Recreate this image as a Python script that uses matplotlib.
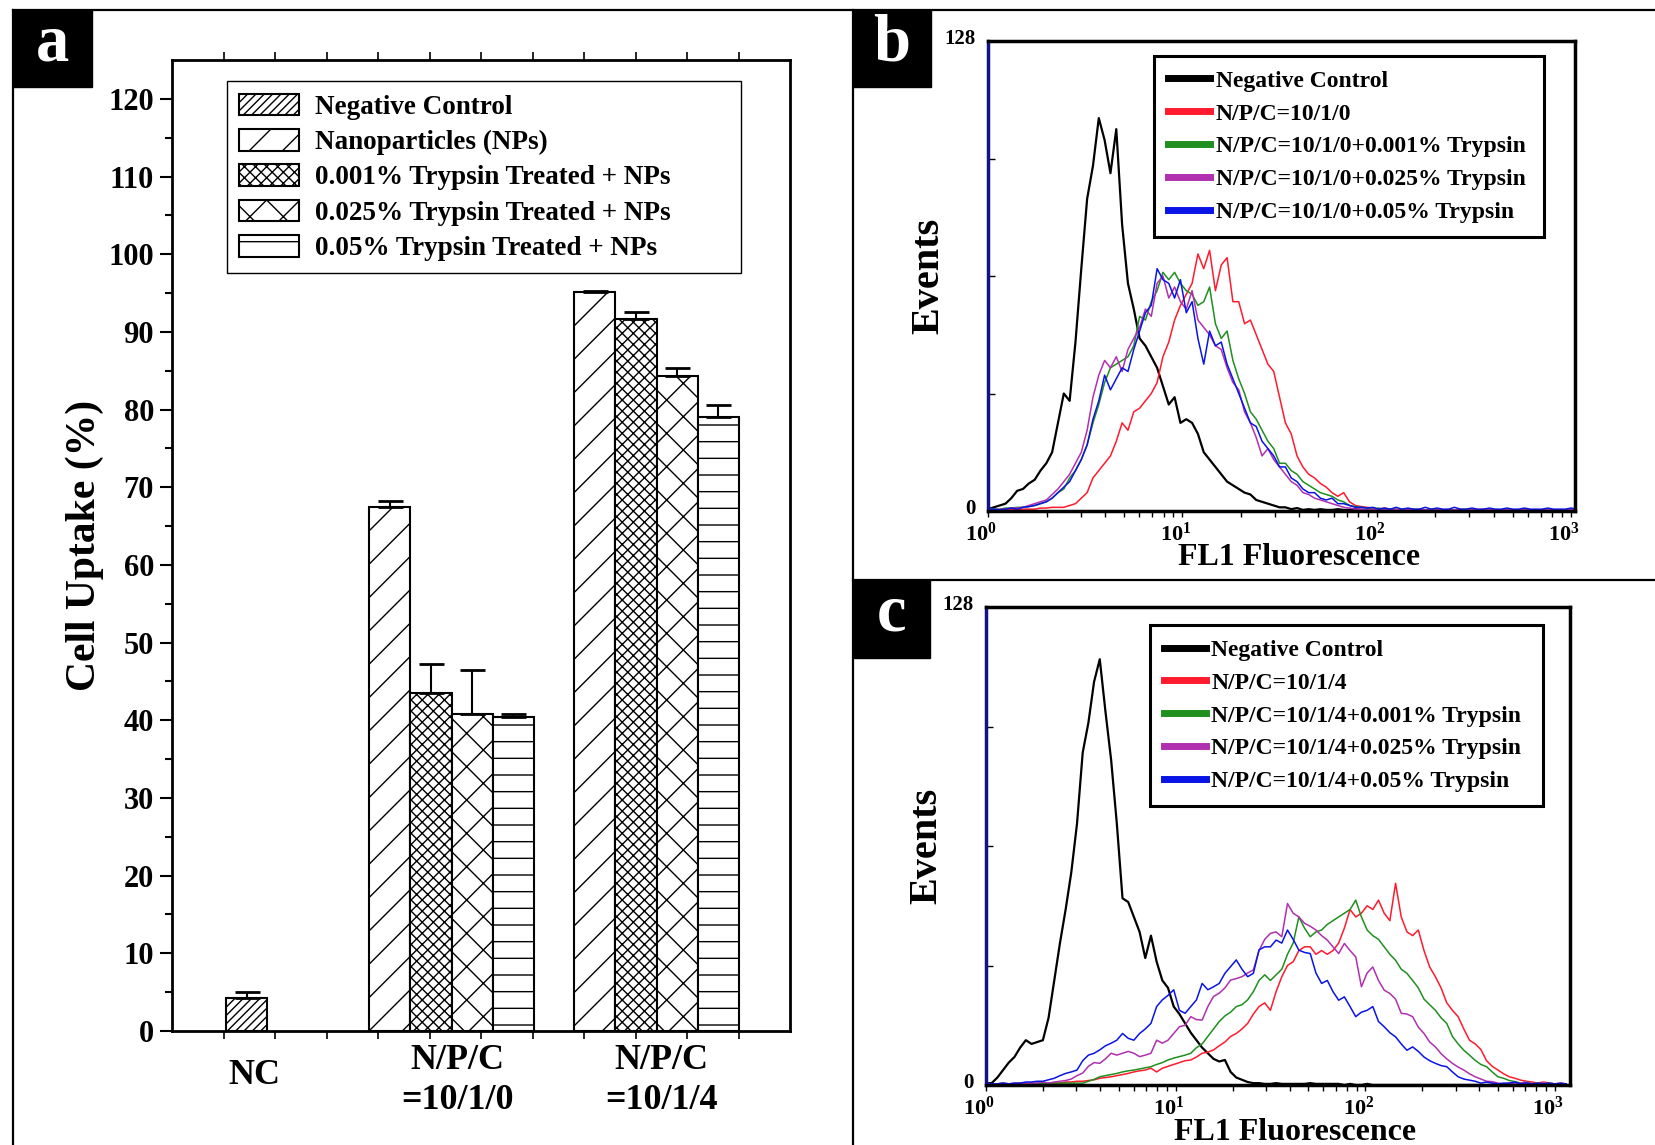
import matplotlib.pyplot as plt
import numpy as np
from matplotlib.patches import Rectangle
from matplotlib.lines import Line2D
from matplotlib.transforms import ScaledTranslation

plt.rcParams['font.family'] = ['Liberation Serif', 'DejaVu Serif']
plt.rcParams['font.weight'] = 'bold'
plt.rcParams['axes.labelweight'] = 'bold'
plt.rcParams['hatch.linewidth'] = 1.0
plt.rcParams['mathtext.fontset'] = 'custom'
plt.rcParams['mathtext.rm'] = 'Liberation Serif:bold'
plt.rcParams['mathtext.it'] = 'Liberation Serif:bold'
plt.rcParams['mathtext.bf'] = 'Liberation Serif:bold'

# ---------------- panel a : uptake bars ----------------
groups = ['NC', 'N/P/C\n=10/1/0', 'N/P/C\n=10/1/4']
series_names = ['Negative Control', 'Nanoparticles (NPs)',
                '0.001% Trypsin Treated + NPs', '0.025% Trypsin Treated + NPs',
                '0.05% Trypsin Treated + NPs']
uptake_neg = [4.3]
uptake_nps = [67.4, 95.1]
uptake_t001 = [43.5, 91.7]
uptake_t025 = [40.8, 84.3]
uptake_t05 = [40.4, 79.1]
err_neg = [0.7]
err_nps = [0.8, 0.2]
err_t001 = [3.8, 0.9]
err_t025 = [5.7, 1.0]
err_t05 = [0.4, 1.5]

# ---------------- panels b, c : FL1 histograms ----------------
# histogram channels, log10 of FL1 intensity
channel_log = np.round(np.arange(103) * 0.03, 2)

b_neg = [0.5, 1, 1.5, 2, 3.5, 5.5, 6, 7.5, 8.5, 11,
         13, 16, 24, 32, 30, 46, 66, 85, 94, 107,
         101, 92, 104, 78, 62, 55, 47, 45, 42, 39,
         34, 29, 31, 24, 25, 24, 21, 16, 14, 12,
         10, 8, 7, 6, 5, 4.5, 3, 2.5, 2, 1.5,
         1, 1, 0.5, 0.8, 0.3, 0.5, 0.3, 0.5, 0.3, 0.3,
         0.5, 0.3, 0.3, 0.5, 0.3, 0.3, 0.3, 0, 0.3, 0,
         0, 0.3, 0, 0, 0, 0, 0.3, 0, 0, 0,
         0, 0, 0, 0, 0, 0, 0, 0, 0, 0,
         0, 0, 0, 0, 0, 0, 0, 0, 0, 0,
         0, 0, 0]
b_np = [0.3, 0.3, 0.3, 0.3, 0.5, 0.3, 0.5, 0.5, 0.5, 0.8,
        0.8, 1, 1, 1, 1.5, 2, 3.5, 5, 9, 11,
        13, 15, 19, 24, 22, 27, 28, 30, 32, 35,
        42, 46, 52, 56, 59, 62, 70, 66, 71, 60,
        67, 69, 57, 57, 51, 52, 48, 44, 40, 38,
        31, 24, 21, 15, 12, 10, 9, 7.5, 6.5, 5,
        4, 5, 2.5, 1.5, 1.2, 1, 0.8, 0.5, 0.8, 0.5,
        0.5, 0.3, 0.5, 0.3, 0.5, 0.3, 0.3, 0.5, 0.3, 0.3,
        0.3, 0.5, 0.3, 0.3, 0.3, 0.5, 0.3, 0.3, 0.3, 0.3,
        0.3, 0.3, 0.5, 0.3, 0.3, 0.3, 0.3, 0.3, 0.3, 0.3,
        0.3, 0.3, 0.3]
b_t001 = [0.5, 0.5, 0.5, 0.8, 0.8, 1, 1, 1.2, 1.5, 2,
          2.5, 3.5, 5, 6, 9, 11, 14, 18, 24, 29,
          35, 39, 40, 41, 42, 45, 53, 52, 57, 60,
          65, 63, 65, 62, 60, 59, 56, 57, 61, 51,
          47, 49, 41, 36, 32, 27, 25, 22, 19, 17,
          13, 13, 11, 10, 8, 7, 6, 5, 4.5, 4,
          3, 2.5, 1.5, 1.2, 1, 0.8, 0.5, 0.8, 0.5, 0.5,
          0.3, 0.5, 0.3, 0.5, 0.3, 0.3, 0.5, 0.3, 0.3, 0.3,
          0.3, 0.3, 0.5, 0.3, 0.3, 0.3, 0.3, 0.3, 0.3, 0.3,
          0.3, 0.3, 0.3, 0.3, 0.3, 0.3, 0.3, 0.3, 0.3, 0.3,
          0.3, 0.3, 0.3]
b_t025 = [0.5, 0.3, 0.5, 0.5, 0.8, 0.8, 1, 1.5, 2, 2.5,
          3, 4.5, 6, 8, 10, 13, 16, 22, 31, 37,
          41, 39, 42, 38, 44, 47, 50, 55, 53, 62,
          64, 58, 61, 57, 55, 60, 52, 50, 48, 45,
          44, 39, 35, 33, 27, 24, 20, 15, 17, 14,
          12, 10, 8, 7, 5, 4.5, 3.5, 3, 2.5, 2,
          1.5, 1, 0.8, 0.5, 0.5, 0.3, 0.5, 0.3, 0.3, 0.3,
          0.3, 0.3, 0.5, 0.3, 0.3, 0.3, 0.3, 0.3, 0.3, 0.3,
          0.3, 0.3, 0.3, 0.3, 0.3, 0.3, 0.3, 0.3, 0.3, 0.3,
          0.3, 0.3, 0.3, 0.3, 0.3, 0.3, 0.3, 0.3, 0.3, 0.3,
          0.3, 0.3, 0.3]
b_t05 = [0.5, 0.5, 0.3, 0.5, 0.8, 0.5, 1, 1.2, 1.5, 2,
         2.5, 3.5, 5, 6.5, 8, 11, 14, 18, 25, 30,
         37, 33, 36, 39, 38, 44, 49, 54, 56, 66,
         63, 62, 58, 63, 54, 57, 47, 40, 49, 45,
         46, 40, 36, 32, 28, 24, 23, 19, 17, 15,
         12, 12, 9, 8, 6, 5, 5, 3.5, 3, 3.5,
         2, 2, 1.5, 1, 1, 0.8, 1, 0.5, 0.8, 0.5,
         1, 0.5, 0.8, 0.5, 0.5, 1, 0.5, 0.8, 0.5, 0.5,
         1, 0.5, 0.5, 0.8, 0.5, 0.5, 0.8, 0.5, 0.5, 0.8,
         0.5, 0.5, 0.8, 0.5, 0.5, 0.5, 0.8, 0.5, 0.5, 0.5,
         0.8, 0.5, 0.5]

c_neg = [0.5, 0.5, 2, 4, 6, 7.5, 10, 12, 11, 11.5,
         12, 18, 28, 38, 47, 57, 70, 89, 97, 108,
         114, 100, 87, 70, 50, 49, 45, 41, 34, 40,
         33, 28, 26, 21, 19, 16.5, 14, 12, 10, 8.5,
         7, 6.3, 6.7, 3.5, 2, 1.4, 0.8, 0.5, 0.5, 0.3,
         0.3, 0.5, 0.3, 0.3, 0.3, 0.3, 0.3, 0.5, 0.3, 0.3,
         0.3, 0.3, 0.3, 0, 0.3, 0, 0, 0.3, 0, 0,
         0, 0, 0, 0, 0, 0, 0, 0, 0, 0,
         0, 0, 0, 0, 0, 0, 0, 0, 0, 0,
         0, 0, 0, 0, 0, 0, 0, 0, 0, 0,
         0, 0, 0]
c_np = [0.5, 0.3, 0.3, 0.3, 0.3, 0.3, 0.5, 0.3, 0.5, 0.3,
        0.5, 0.5, 0.5, 0.5, 0.8, 0.8, 1, 1, 1.2, 1.4,
        1.8, 2, 2.2, 2.5, 2.8, 3.1, 3.5, 3.8, 4, 4.5,
        3.5, 4.5, 5, 5.5, 6, 6.5, 6.7, 7.5, 8.5, 8.8,
        9.4, 10.5, 11.5, 13, 13.8, 15, 16.5, 19, 21, 22,
        20, 25, 29, 32, 33, 36, 37, 37, 35, 36,
        35, 36, 38, 42, 47, 45, 46, 48, 47, 49.5,
        46, 44, 54, 45, 41, 40, 41.5, 36, 31.6, 29,
        26, 22, 20, 18.3, 15, 12, 11, 9.5, 6.5, 5,
        4, 3, 2.2, 1.8, 1.3, 1, 0.8, 0.5, 0.8, 0.5,
        0.3, 0.5, 0.3]
c_t001 = [0.3, 0.3, 0.3, 0.5, 0.3, 0.3, 0.5, 0.3, 0.3, 0.5,
          0.3, 0.5, 0.5, 0.5, 0.5, 0.5, 0.5, 0.5, 1, 1.5,
          2.2, 2.5, 2.8, 3.1, 3.5, 3.8, 4, 4.3, 4.6, 4.9,
          5.5, 6, 6.7, 7.2, 7.6, 8, 8.5, 10, 11, 13,
          15, 17, 18.5, 19.5, 21, 21.5, 22.8, 25, 28, 29.5,
          28, 29.5, 31, 35, 38, 45, 42, 39.7, 41, 41.5,
          43, 44, 45, 46, 47, 49.5, 45, 41.5, 40, 39,
          37, 35, 33.4, 31, 29.9, 28, 26, 23, 21.5, 20,
          18, 16.5, 13, 11, 9.3, 8, 6.6, 5.5, 4.9, 3.5,
          2.2, 1.8, 1.2, 0.9, 0.5, 0.8, 0.3, 0.5, 0.3, 0.5,
          0.3, 0.3, 0.3]
c_t025 = [0.3, 0.3, 0.3, 0.5, 0.3, 0.5, 0.3, 0.5, 0.5, 0.5,
          0.8, 0.5, 0.8, 1, 1.2, 1.6, 2.5, 3.2, 5, 6,
          5.8, 7, 8.5, 8, 8.5, 9, 8.5, 7.6, 8, 8.5,
          12, 11.2, 12, 13.8, 15.6, 16, 18.3, 17.5, 17.4, 21,
          23.7, 24.6, 26, 28.1, 28.5, 29, 30, 30.8, 36, 39,
          40.6, 41, 39.7, 48.6, 46, 45, 43.3, 42.5, 41.5, 40,
          38.8, 37, 35.2, 37.9, 36, 34.3, 26.3, 30, 31.6, 28,
          25.4, 24.5, 23, 19.2, 19, 18.3, 15.5, 13.8, 11.5, 10.2,
          8.4, 7, 5.8, 4.8, 4, 3, 2.2, 1.6, 1, 0.9,
          0.5, 0.3, 0.5, 0.3, 0.5, 0.8, 0.3, 0.3, 0.5, 0.3,
          0.3, 0.3, 0.3]
c_t05 = [0.5, 0.3, 0.3, 0.5, 0.3, 0.5, 0.5, 0.8, 0.8, 1,
         1, 1.4, 1.8, 2.5, 3.1, 3.5, 4, 6.5, 8, 8.5,
         9.4, 10.5, 11.2, 12, 13.8, 12.5, 12, 13.8, 15, 16.5,
         21, 22.8, 24, 25.5, 20, 19.2, 21, 22.8, 27.2, 25.5,
         26.3, 27.2, 29.9, 31.7, 33.5, 31, 29, 29.9, 36.2, 37,
         37, 38.8, 38, 41.5, 39, 36.1, 35.5, 35.2, 30, 27.2,
         28, 25, 22.7, 23.6, 21, 18.3, 19.5, 20, 21, 17,
         15.6, 14, 12.9, 11, 9.3, 10.2, 9, 7.5, 6.5, 5.8,
         5.2, 4.9, 3.5, 2.2, 1.6, 1.3, 1, 0.5, 0.8, 0.5,
         0.3, 0.5, 0.5, 0.8, 0.3, 0.5, 0.3, 0.5, 0.3, 0.5,
         0.3, 0.5, 0.3]

b_labels = ['Negative Control', 'N/P/C=10/1/0', 'N/P/C=10/1/0+0.001% Trypsin',
            'N/P/C=10/1/0+0.025% Trypsin', 'N/P/C=10/1/0+0.05% Trypsin']
c_labels = ['Negative Control', 'N/P/C=10/1/4', 'N/P/C=10/1/4+0.001% Trypsin',
            'N/P/C=10/1/4+0.025% Trypsin', 'N/P/C=10/1/4+0.05% Trypsin']
line_colors = ['black', '#ff1a2e', '#1f8f1f', '#b030b0', '#0a14e6']

W, H = 1655, 1145
fig = plt.figure(figsize=(W / 100, H / 100), dpi=100)


def px_box(x0, y0, x1, y1):
    # pixel box measured from the top-left corner -> figure fraction rect
    return [x0 / W, 1 - y1 / H, (x1 - x0) / W, (y1 - y0) / H]


# ---------------- panel a ----------------
ax = fig.add_axes(px_box(172, 60, 790, 1031))
bw = 0.8
nc_left, g2_left, g3_left = 1.05, 3.83, 7.81
hatches = ['////', '/', 'xxx', 'x', '-']
bar_sets = [
    ([nc_left + bw / 2], uptake_neg, err_neg),
    ([g2_left + bw / 2, g3_left + bw / 2], uptake_nps, err_nps),
    ([g2_left + 1.5 * bw, g3_left + 1.5 * bw], uptake_t001, err_t001),
    ([g2_left + 2.5 * bw, g3_left + 2.5 * bw], uptake_t025, err_t025),
    ([g2_left + 3.5 * bw, g3_left + 3.5 * bw], uptake_t05, err_t05),
]
handles = []
for (xs, vals, errs), h, name in zip(bar_sets, hatches, series_names):
    bc = ax.bar(xs, vals, width=bw, color='white', edgecolor='black', linewidth=1.5,
                hatch=h, label=name, yerr=[[0] * len(errs), errs], capsize=9,
                error_kw=dict(ecolor='black', elinewidth=1.5, capthick=2))
    handles.append(bc)

ax.set_xlim(0, 12)
ax.set_ylim(0, 125)
ax.set_yticks(range(0, 121, 10))
ax.set_yticks(range(5, 125, 10), minor=True)
ax.set_xticks([])
ax.set_xticks(range(1, 12), minor=True)
ax.tick_params(axis='y', which='major', direction='out', length=9, width=1.5,
               labelsize=22, pad=4)
ax.tick_params(axis='y', which='minor', direction='out', length=5, width=1.5)
ax.tick_params(axis='x', which='minor', direction='out', length=6, width=1.2,
               top=True, labelbottom=False)
for s in ax.spines.values():
    s.set_linewidth(2)

xt = ax.get_xaxis_transform()
ax.text(1.6, -0.046, groups[0], transform=xt, ha='center', va='center', fontsize=26)
ax.text(5.55, -0.051, groups[1], transform=xt, ha='center', va='center', fontsize=26,
        linespacing=1.3)
ax.text(9.5, -0.051, groups[2], transform=xt, ha='center', va='center', fontsize=26,
        linespacing=1.3)
ax.text(-0.141, 0.5, 'Cell Uptake (%)', transform=ax.transAxes, rotation=90,
        ha='center', va='center', fontsize=30)

leg = ax.legend(handles, series_names, loc='upper left',
                bbox_to_anchor=(0.089, 0.787, 0.832, 0.191), mode='expand',
                fontsize=19.5, fancybox=False, edgecolor='black', framealpha=1,
                handlelength=2.2, handleheight=0.85, handletextpad=0.6,
                labelspacing=0.34, borderpad=0.45, borderaxespad=0)
leg.get_frame().set_linewidth(1.0)


# ---------------- panels b and c ----------------
def histogram_panel(rect, curves, labels, xmax_log, leg_box):
    axh = fig.add_axes(rect)
    fl1 = 10 ** channel_log
    for vals, col in zip(curves, line_colors):
        axh.plot(fl1, vals, color=col, lw=1.6 if col == 'black' else 1.1)
    axh.set_xscale('log')
    axh.set_xlim(1, 10 ** xmax_log)
    axh.set_ylim(0, 128)
    axh.set_yticks([0, 128], labels=['0', '128'])
    axh.set_yticks([32, 64, 96], minor=True)
    axh.set_xticks([1, 10, 100, 1000],
                   labels=[r'$10^{0}$', r'$10^{1}$', r'$10^{2}$', r'$10^{3}$'])
    axh.tick_params(axis='y', which='both', direction='in', length=5, width=1,
                    labelsize=15, pad=9)
    axh.tick_params(axis='x', which='both', direction='out', length=4, width=1,
                    labelsize=16, pad=4)
    xshift = ScaledTranslation(-0.07, 0, fig.dpi_scale_trans)
    for lab in axh.get_xticklabels():
        lab.set_transform(lab.get_transform() + xshift)
    yshift = ScaledTranslation(0, 0.04, fig.dpi_scale_trans)
    for lab in axh.get_yticklabels():
        lab.set_transform(lab.get_transform() + yshift)
    for s in axh.spines.values():
        s.set_linewidth(2.5)
    axh.spines['left'].set_color('#12128c')
    axh.set_ylabel('Events', fontsize=29, labelpad=-2)
    axh.set_xlabel('FL1 Fluorescence', fontsize=23)
    axh.xaxis.set_label_coords(0.53, -0.068)
    lh = [Line2D([], [], color=c, lw=5) for c in line_colors]
    lg = axh.legend(lh, labels, loc='upper left', bbox_to_anchor=leg_box,
                    mode='expand', fontsize=17, fancybox=False, edgecolor='black',
                    framealpha=1, handlelength=1.75, handletextpad=0.25,
                    labelspacing=0.48, borderpad=0.6, borderaxespad=0)
    lg.get_frame().set_linewidth(2.2)
    return axh


histogram_panel(px_box(988, 41, 1575, 511), [b_neg, b_np, b_t001, b_t025, b_t05],
                b_labels, 3.02, (0.283, 0.588, 0.664, 0.38))
histogram_panel(px_box(986, 607, 1570, 1085), [c_neg, c_np, c_t001, c_t025, c_t05],
                c_labels, 3.08, (0.281, 0.588, 0.673, 0.374))

# ---------------- frame lines and panel tags ----------------
frame_lw = 1.6
for (x0, y0, x1, y1) in [(13, 10, 1655, 10), (13, 10, 13, 1145),
                         (853, 10, 853, 1145), (853, 580, 1655, 580)]:
    fig.add_artist(Line2D([x0 / W, x1 / W], [1 - y0 / H, 1 - y1 / H],
                          color='black', lw=frame_lw, transform=fig.transFigure))

for tag, (x0, y0, x1, y1) in [('a', (13, 10, 92, 87)), ('b', (853, 10, 931, 87)),
                              ('c', (853, 580, 930, 658))]:
    r = px_box(x0, y0, x1, y1)
    fig.add_artist(Rectangle((r[0], r[1]), r[2], r[3], facecolor='black',
                             edgecolor='black', transform=fig.transFigure))
    fig.text(r[0] + r[2] / 2, r[1] + r[3] / 2 + 0.004, tag, color='white',
             fontsize=48, ha='center', va='center')

fig.savefig('out.png', dpi=100)
